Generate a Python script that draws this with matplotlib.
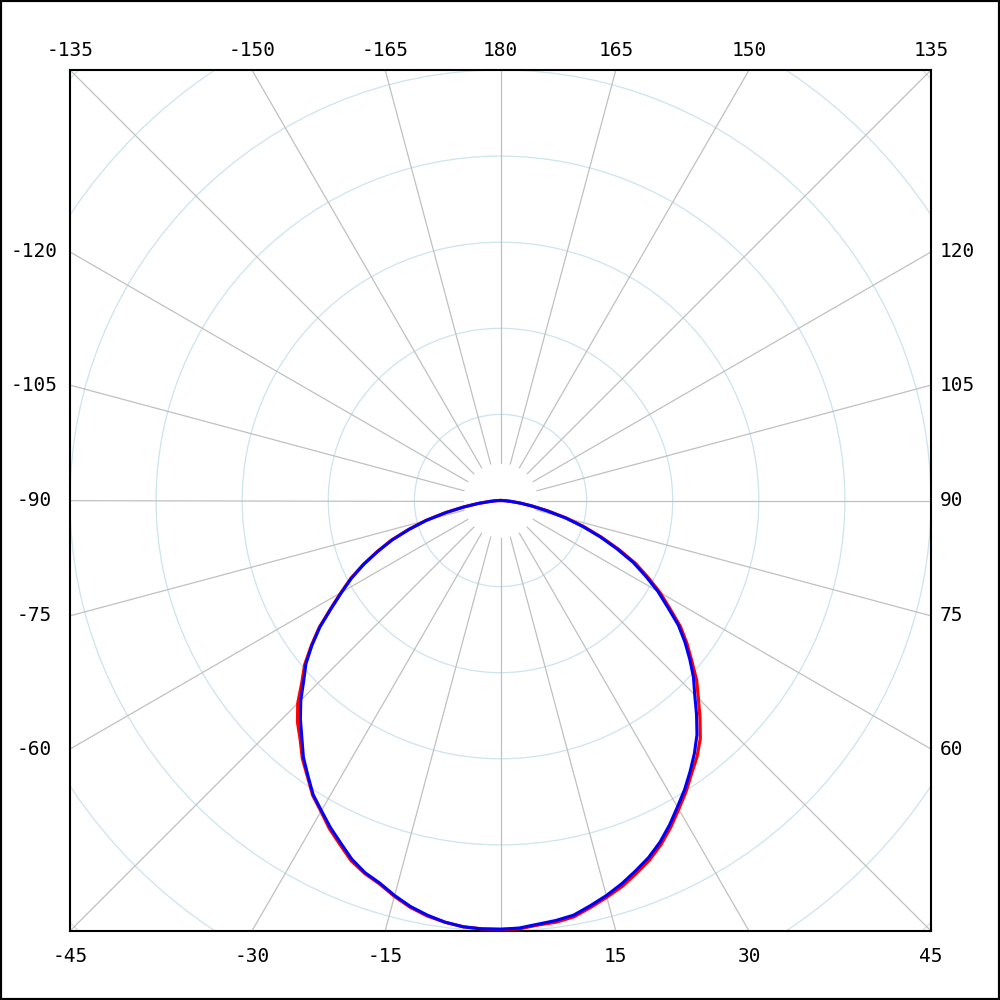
import numpy as np
import matplotlib.pyplot as plt
from matplotlib.patches import Circle, Rectangle

# gamma angles (0 = straight down, positive to the right), 2.5 deg steps
angles = np.arange(-90, 90.1, 2.5)

red_values = [0, 5, 12, 26, 44, 66, 90, 112, 135, 155, 176, 196, 214, 234, 257, 277, 297, 313,
              333, 349, 362, 378, 391, 406, 417, 430, 441, 453, 461, 467, 476, 484, 490, 494, 497, 498,
              498,
              498, 495, 494, 491, 484, 477, 470, 461, 452, 441, 428, 414, 401, 387, 375, 361, 343, 325,
              309, 290, 273, 255, 233, 214, 193, 173, 149, 125, 102, 80, 57, 38, 24, 12, 5, 0]

blue_values = [0, 5, 12, 26, 43, 65, 89, 111, 134, 154, 175, 195, 213, 233, 256, 276, 295, 310,
               328, 344, 359, 376, 390, 405, 416, 428, 439, 451, 460, 466, 475, 483, 489, 494, 497, 498,
               498,
               497, 494, 492, 489, 482, 475, 467, 458, 449, 438, 425, 411, 398, 384, 370, 355, 337, 319,
               304, 287, 270, 252, 230, 211, 190, 170, 146, 123, 100, 78, 55, 37, 23, 12, 5, 0]

ring_values = [100, 200, 300, 400, 500, 600, 700]
ray_angles = list(range(0, 360, 15))

top_labels = [-135, -150, -165, 180, 165, 150, 135]
left_labels = [-120, -105, -90, -75, -60]
right_labels = [120, 105, 90, 75, 60]
bottom_labels = [-45, -30, -15, 15, 30, 45]

LIM = 500


def to_xy(theta, r):
    t = np.radians(theta)
    r = np.asarray(r, dtype=float)
    return r * np.sin(t), -r * np.cos(t)


def edge_point(theta):
    dx, dy = to_xy(theta, 1.0)
    s = LIM / max(abs(dx), abs(dy))
    return dx * s, dy * s


fig = plt.figure(figsize=(10, 10), dpi=100)
ax = fig.add_axes([0.07, 0.069, 0.861, 0.861])
ax.set_xlim(-LIM, LIM)
ax.set_ylim(-LIM, LIM)
ax.set_xticks([])
ax.set_yticks([])
for sp in ax.spines.values():
    sp.set_linewidth(1.5)
    sp.set_color("black")

# rings
for rv in ring_values:
    ax.add_patch(Circle((0, 0), rv, fill=False, ec="#cce4ec", lw=0.9, zorder=1))

# rays
for a in ray_angles:
    x, y = to_xy(a, np.array([44, 900]))
    ax.plot(x, y, color="#c0c0c0", lw=0.9, zorder=1)

# curves
x, y = to_xy(angles, red_values)
ax.plot(x, y, color="#ff0000", lw=2.3, zorder=3)
x, y = to_xy(angles, blue_values)
ax.plot(x, y, color="#0000ff", lw=2.2, zorder=4)

font = dict(family="DejaVu Sans Mono", fontsize=14, color="black")
for a in top_labels:
    ax.annotate(str(a), xy=edge_point(a), xytext=(0, 20), textcoords="offset pixels",
                ha="center", va="center", annotation_clip=False, **font)
for a in bottom_labels:
    ax.annotate(str(a), xy=edge_point(a), xytext=(0, -26), textcoords="offset pixels",
                ha="center", va="center", annotation_clip=False, **font)
for a in left_labels:
    ax.annotate(str(a), xy=edge_point(a), xytext=(-36, 0), textcoords="offset pixels",
                ha="center", va="center", annotation_clip=False, **font)
for a in right_labels:
    ax.annotate(str(a), xy=edge_point(a), xytext=(9, 0), textcoords="offset pixels",
                ha="left", va="center", annotation_clip=False, **font)

fig.add_artist(Rectangle((0, 0), 1, 1, transform=fig.transFigure, fill=False,
                         ec="black", lw=3))

fig.savefig("out.png", dpi=100)
